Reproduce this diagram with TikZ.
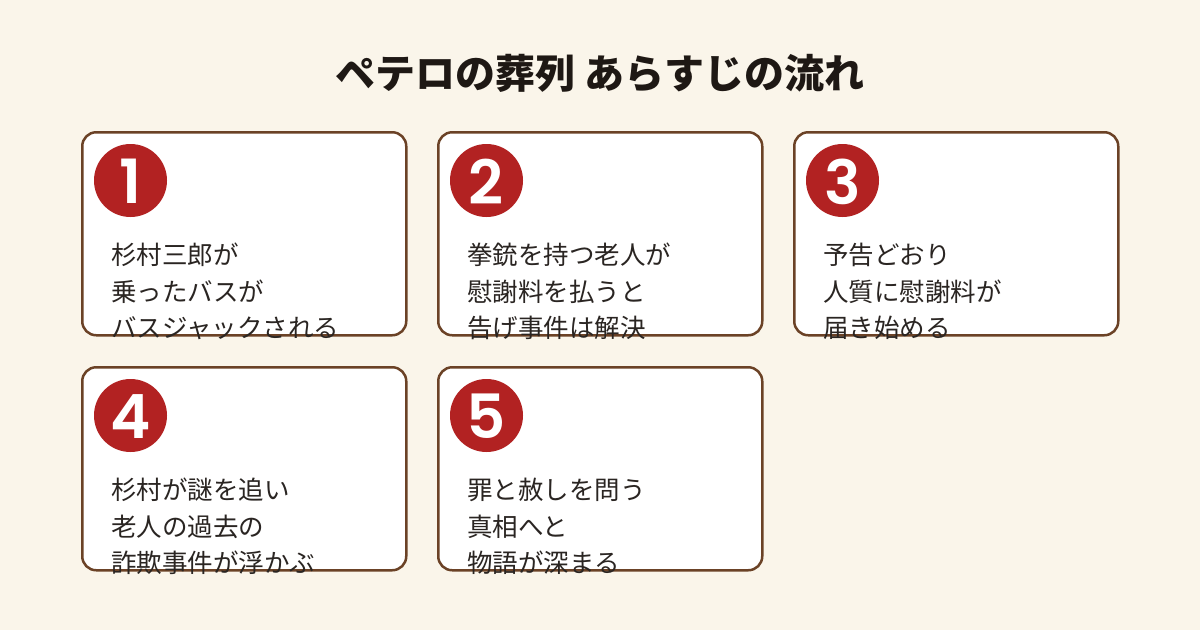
\documentclass[tikz,border=0pt]{standalone}
\usepackage{fontspec}
\newfontfamily\jp{Noto Sans CJK JP}
\newfontfamily\numfont{Poppins}[UprightFont=* SemiBold, BoldFont=* Bold]
\definecolor{bg}{HTML}{FAF5EA}
\definecolor{brd}{HTML}{6B4226}
\definecolor{numred}{HTML}{B22222}
\definecolor{ink}{HTML}{2A2522}
\definecolor{titleink}{HTML}{1E1814}
\tikzset{
  cardbox/.style={draw=brd, line width=2.5pt, fill=white, rounded corners=14pt,
    minimum width=324pt, minimum height=203pt, anchor=north west, inner sep=0pt},
  numcirc/.style={circle, fill=numred, minimum size=73pt, inner sep=0pt},
  numdigit/.style={text=white, font=\numfont\fontsize{61}{61}\selectfont, inner sep=0pt},
  bodyline/.style={anchor=base west, inner sep=0pt, text=ink,
    font=\jp\fontsize{25.5}{25.5}\selectfont},
  titletext/.style={text=titleink, font=\jp\bfseries\fontsize{40}{40}\selectfont, inner sep=0pt}
}
\newcommand\mycard[7]{%
  \node[cardbox] (#1) at (#2,#3) {};
  \node[numcirc] (#1n) at ([xshift=49.5pt,yshift=-49.5pt]#1.north west) {};
  \node[numdigit] (#1d) at ([yshift=-1pt]#1n.center) {#4};
  \node[bodyline] (#1a) at ([xshift=30pt,yshift=-133pt]#1.north west) {#5};
  \node[bodyline] (#1b) at ([xshift=30pt,yshift=-170pt]#1.north west) {#6};
  \node[bodyline] (#1c) at ([xshift=30pt,yshift=-206.5pt]#1.north west) {#7};
}
\begin{document}
\begin{tikzpicture}[x=1pt,y=-1pt]
\useasboundingbox[fill=bg] (0,0) rectangle (1200,630);
\node[titletext] (title) at (600,73) {ペテロの葬列 あらすじの流れ};
\mycard{c1}{81}{131}{1}{杉村三郎が}{乗ったバスが}{バスジャックされる}
\mycard{c2}{437}{131}{2}{拳銃を持つ老人が}{慰謝料を払うと}{告げ事件は解決}
\mycard{c3}{793}{131}{3}{予告どおり}{人質に慰謝料が}{届き始める}
\mycard{c4}{81}{366}{4}{杉村が謎を追い}{老人の過去の}{詐欺事件が浮かぶ}
\mycard{c5}{437}{366}{5}{罪と赦しを問う}{真相へと}{物語が深まる}
\end{tikzpicture}
\end{document}
